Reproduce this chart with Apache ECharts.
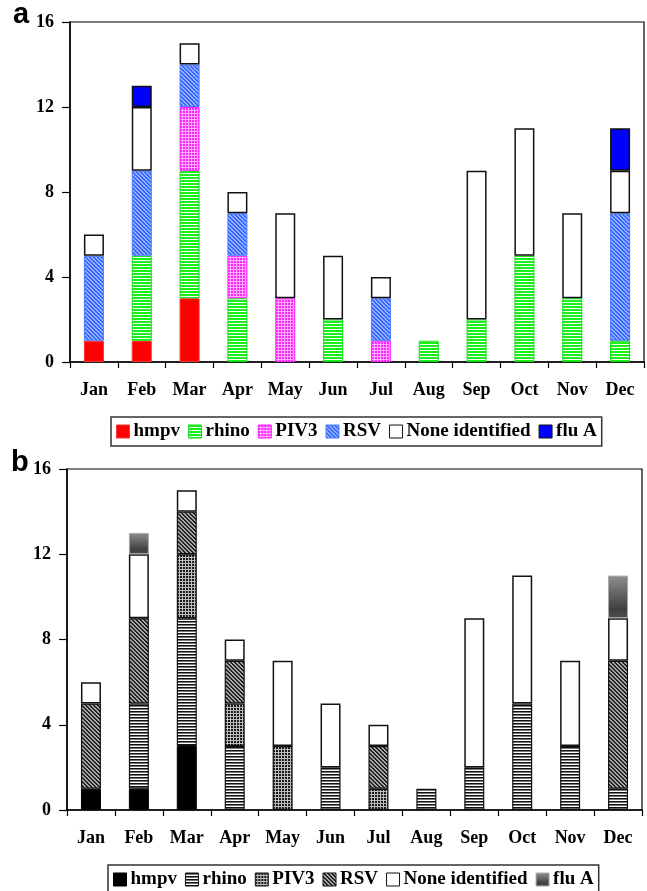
<!DOCTYPE html>
<html>
<head>
<meta charset="utf-8">
<script src="https://cdn.jsdelivr.net/npm/echarts@6/dist/echarts.min.js"></script>
<style>
html,body{margin:0;padding:0;background:#fff;}
#chart{width:647px;height:891px;}
</style>
</head>
<body>
<div id="chart"></div>
<script>
// ---- data ----
var months = ['Jan','Feb','Mar','Apr','May','Jun','Jul','Aug','Sep','Oct','Nov','Dec'];
var seriesNames = ['hmpv','rhino','PIV3','RSV','None identified','flu A'];
var hmpv  = [1,1,3,0,0,0,0,0,0,0,0,0];
var rhino = [0,4,6,3,0,2,0,1,2,5,3,1];
var piv3  = [0,0,3,2,3,0,1,0,0,0,0,0];
var rsv   = [4,4,2,2,0,0,2,0,0,0,0,6];
var noneId= [1,3,1,1,4,3,1,0,7,6,4,2];
var fluA  = [0,1,0,0,0,0,0,0,0,0,0,2];
var yMin = 0, yMax = 16, yStep = 4;

// ---- patterns ----
function pat(w, h, draw) {
  var c = document.createElement('canvas');
  c.width = w; c.height = h;
  var g = c.getContext('2d');
  draw(g, w, h);
  return {image: c, repeat: 'repeat'};
}
var rhinoA = pat(1, 3, function (g) {
  g.fillStyle = '#ffffff'; g.fillRect(0, 0, 1, 3);
  g.fillStyle = '#19f019'; g.fillRect(0, 0, 1, 2);
});
var piv3A = pat(3, 3, function (g) {
  g.fillStyle = '#ff22ff'; g.fillRect(0, 0, 3, 3);
  g.fillStyle = '#ffb0ff'; g.fillRect(2, 0, 1, 3); g.fillRect(0, 2, 3, 1);
});
var rsvA = pat(4, 4, function (g) {
  g.fillStyle = '#8fb0ff'; g.fillRect(0, 0, 4, 4);
  g.fillStyle = '#3a66ff';
  for (var i = 0; i < 4; i++) { g.fillRect(i, i, 1, 1); g.fillRect((i + 1) % 4, i, 1, 1); }
});
var rhinoB = pat(1, 3, function (g) {
  g.fillStyle = '#ffffff'; g.fillRect(0, 0, 1, 3);
  g.fillStyle = '#111111'; g.fillRect(0, 0, 1, 1);
  g.fillStyle = '#777777'; g.fillRect(0, 1, 1, 1);
});
var piv3B = pat(3, 3, function (g) {
  g.fillStyle = '#1a1a1a'; g.fillRect(0, 0, 3, 3);
  g.fillStyle = '#bdbdbd'; g.fillRect(2, 0, 1, 3); g.fillRect(0, 2, 3, 1);
});
var rsvB = pat(4, 4, function (g) {
  g.fillStyle = '#a8a8a8'; g.fillRect(0, 0, 4, 4);
  g.fillStyle = '#222222';
  for (var i = 0; i < 4; i++) { g.fillRect(i, i, 1, 1); g.fillRect((i + 1) % 4, i, 1, 1); }
});
var fluGradB = new echarts.graphic.LinearGradient(0, 0, 0, 1, [
  {offset: 0, color: '#8e8e8e'}, {offset: 0.8, color: '#3e3e3e'}, {offset: 1, color: '#505050'}
]);

var values = [hmpv, rhino, piv3, rsv, noneId, fluA];
var stylesA = [
  {color: '#ff0000', borderColor: '#ff3030', borderWidth: 1},
  {color: rhinoA, borderColor: '#10e010', borderWidth: 1},
  {color: piv3A, borderColor: '#ff20ff', borderWidth: 1},
  {color: rsvA, borderColor: '#4a78ff', borderWidth: 1},
  {color: '#ffffff', borderColor: '#111111', borderWidth: 1.5},
  {color: '#0000ff', borderColor: '#111111', borderWidth: 1.5}
];
var stylesB = [
  {color: '#000000', borderColor: '#000000', borderWidth: 1},
  {color: rhinoB, borderColor: '#111111', borderWidth: 1.2},
  {color: piv3B, borderColor: '#111111', borderWidth: 1.2},
  {color: rsvB, borderColor: '#111111', borderWidth: 1.2},
  {color: '#ffffff', borderColor: '#111111', borderWidth: 1.5},
  {color: fluGradB, borderColor: '#aaaaaa', borderWidth: 1}
];

function toData(arr) { return arr.map(function (v) { return v === 0 ? '-' : v; }); }

var series = [];
seriesNames.forEach(function (n, i) {
  series.push({name: n, type: 'bar', stack: 'a', xAxisIndex: 0, yAxisIndex: 0,
    barWidth: 20, data: toData(values[i]), itemStyle: stylesA[i]});
});
seriesNames.forEach(function (n, i) {
  series.push({name: n, type: 'bar', stack: 'b', xAxisIndex: 1, yAxisIndex: 1,
    barWidth: 20, data: toData(values[i]), itemStyle: stylesB[i]});
});

var serif = '"Liberation Serif","Times New Roman",serif';
function xAxis(gi) {
  return {type: 'category', gridIndex: gi, data: months, boundaryGap: true,
    axisLine: {lineStyle: {color: '#000', width: 1.5}},
    axisTick: {show: true, inside: false, length: 6, lineStyle: {color: '#000', width: 1.2}},
    axisLabel: {color: '#000', fontFamily: serif, fontWeight: 'bold', fontSize: 18, margin: 19, interval: 0}};
}
function yAxis(gi) {
  return {type: 'value', gridIndex: gi, min: yMin, max: yMax, interval: yStep,
    axisLine: {show: true, lineStyle: {color: '#000', width: 1.5}},
    axisTick: {show: true, inside: false, length: 8, lineStyle: {color: '#000', width: 1.2}},
    splitLine: {show: false},
    axisLabel: {color: '#000', fontFamily: serif, fontWeight: 'bold', fontSize: 18, margin: 16}};
}
function legend(top, left, styles) {
  return {top: top, left: left, orient: 'horizontal', icon: 'rect',
    itemWidth: 13, itemHeight: 13, itemGap: 8, padding: [5, 5, 5, 5],
    borderColor: '#333', borderWidth: 1.5, selectedMode: false,
    textStyle: {fontFamily: serif, fontWeight: 'bold', fontSize: 19, color: '#000', padding: [0, 0, 0, -1]},
    data: seriesNames.map(function (n, i) {
      return {name: n, itemStyle: {color: styles[i].color, borderColor: styles[i].borderColor, borderWidth: 1}};
    })};
}

var chart = echarts.init(document.getElementById('chart'), null, {renderer: 'canvas'});
chart.setOption({
  animation: false,
  backgroundColor: '#ffffff',
  grid: [
    {left: 70, right: 3, top: 22, bottom: 529, show: true, borderColor: '#000', borderWidth: 1.2, containLabel: false},
    {left: 67, right: 5, top: 469, bottom: 81, show: true, borderColor: '#000', borderWidth: 1.2, containLabel: false}
  ],
  xAxis: [xAxis(0), xAxis(1)],
  yAxis: [yAxis(0), yAxis(1)],
  legend: [legend(417, 111, stylesA), legend(865, 108, stylesB)],
  graphic: [
    {type: 'text', left: 13, top: 0, style: {text: 'a', font: 'bold 29px "Liberation Sans", Arial, sans-serif', fill: '#000'}},
    {type: 'text', left: 11, top: 448, style: {text: 'b', font: 'bold 29px "Liberation Sans", Arial, sans-serif', fill: '#000'}}
  ],
  series: series
});
</script>
</body>
</html>
